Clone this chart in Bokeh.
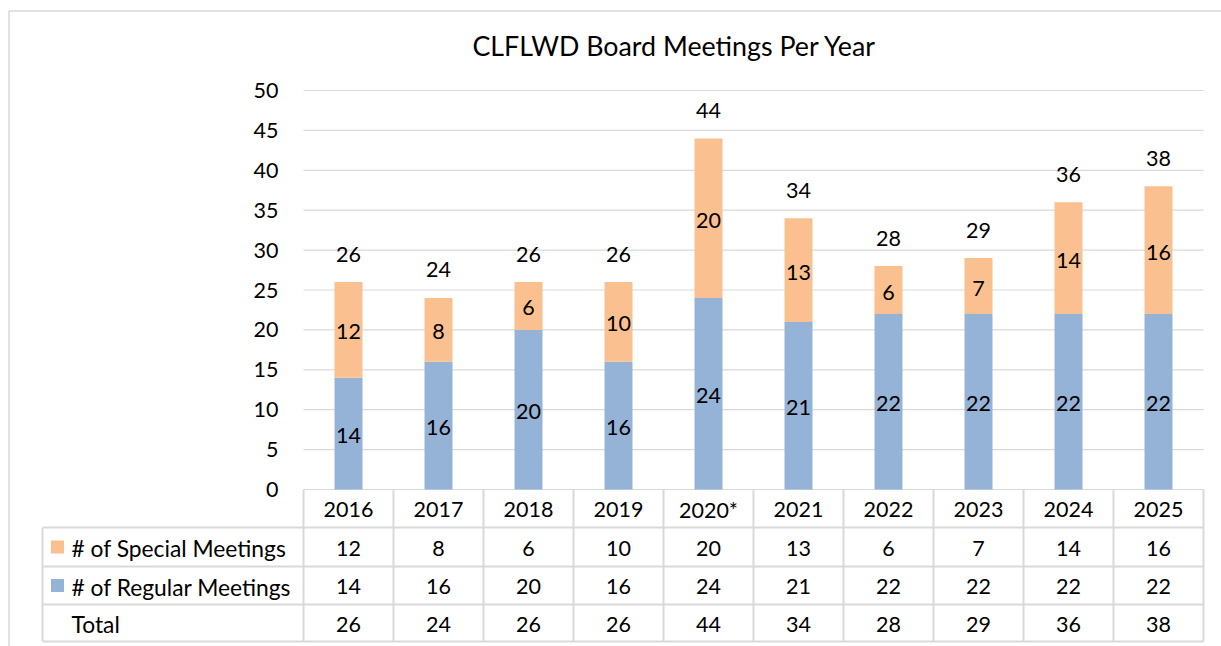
from bokeh.plotting import figure
from bokeh.models import ColumnDataSource, Range1d
from bokeh.core.properties import value
from bokeh.embed import file_html
from bokeh.resources import INLINE

# ---- data ----
years = ["2016", "2017", "2018", "2019", "2020*", "2021", "2022", "2023", "2024", "2025"]
special = [12, 8, 6, 10, 20, 13, 6, 7, 14, 16]
regular = [14, 16, 20, 16, 24, 21, 22, 22, 22, 22]
total = [26, 24, 26, 26, 44, 34, 28, 29, 36, 38]
y_ticks = [0, 5, 10, 15, 20, 25, 30, 35, 40, 45, 50]
series_names = ["# of Special Meetings", "# of Regular Meetings", "Total"]
title_text = "CLFLWD Board Meetings Per Year"

# ---- styling / layout ----
FONT = value("Lato")
FS = "21.5px"
W, H = 1221, 646
COLW = 90.0            # px per category
PX_LEFT = 303.0        # canvas px of category axis start
PY_ZERO = 489.0        # canvas px of y = 0
PPU = 399.0 / 50.0     # px per y unit
ORANGE = "#FAC090"
BLUE = "#95B3D7"
GRID = "#D9D9D9"
TXT = "#000000"

x_start = -PX_LEFT / COLW
x_end = (W - PX_LEFT) / COLW
y_end = PY_ZERO / PPU
y_start = -(H - PY_ZERO) / PPU

def cx(px):  # canvas px -> data x
    return x_start + px / COLW

def cy(py):  # canvas px -> data y
    return y_end - py / PPU

p = figure(width=W, height=H, output_backend="svg", toolbar_location=None,
           x_range=Range1d(x_start, x_end), y_range=Range1d(y_start, y_end),
           x_axis_location=None, y_axis_location=None, min_border=0,
           outline_line_color=None, background_fill_color="white",
           border_fill_color="white")
p.xgrid.visible = False
p.ygrid.visible = False

n = len(years)
centers = [i + 0.5 for i in range(n)]

# outer chart border (left and top edges visible)
p.segment(x0=[cx(8.5)], y0=[cy(10.5)], x1=[cx(8.5)], y1=[y_start], line_color=GRID, line_width=1.5)
p.segment(x0=[cx(8.5)], y0=[cy(10.5)], x1=[x_end], y1=[cy(10.5)], line_color=GRID, line_width=1.5)

# gridlines
p.segment(x0=[0] * len(y_ticks), y0=y_ticks, x1=[n] * len(y_ticks), y1=y_ticks,
          line_color=GRID, line_width=1.2)

# y tick labels
p.text(x=[cx(278)] * len(y_ticks), y=y_ticks, text=[str(t) for t in y_ticks],
       text_align="right", text_baseline="middle", text_font=FONT,
       text_font_size=FS, text_color=TXT)

# bars
src = ColumnDataSource(dict(x=centers, reg=regular, spec=special, tot=total,
                            reg_mid=[r / 2 for r in regular],
                            spec_mid=[r + s / 2 for r, s in zip(regular, special)],
                            reg_lbl=[str(v) for v in regular],
                            spec_lbl=[str(v) for v in special],
                            tot_lbl=[str(v) for v in total]))
bw = 28.0 / COLW
p.vbar(x="x", bottom=0, top="reg", width=bw, fill_color=BLUE, line_color=None, source=src)
p.vbar(x="x", bottom="reg", top="tot", width=bw, fill_color=ORANGE, line_color=None, source=src)

# data labels
for ycol, tcol, off in (("reg_mid", "reg_lbl", 2), ("spec_mid", "spec_lbl", 2), ("tot", "tot_lbl", -28)):
    p.text(x="x", y=ycol, text=tcol, source=src, text_align="center",
           text_baseline="middle", text_font=FONT, text_font_size=FS, text_color=TXT,
           y_offset=off)

# title
p.text(x=[cx(674)], y=[cy(45)], text=[title_text], text_align="center",
       text_baseline="middle", text_font=FONT, text_font_size="26.8px", text_color=TXT)

# ---- data table ----
row_px = [489, 527, 566, 604, 641]
row_edges = [cy(v) for v in row_px]
x_lab_left = cx(42)
# horizontal lines
p.segment(x0=[x_lab_left] * 4, y0=row_edges[1:], x1=[n] * 4, y1=row_edges[1:],
          line_color=GRID, line_width=2)
# vertical lines for value columns
p.segment(x0=list(range(n + 1)), y0=[row_edges[0]] * (n + 1), x1=list(range(n + 1)),
          y1=[row_edges[-1]] * (n + 1), line_color=GRID, line_width=2)
# left border of label column
p.segment(x0=[x_lab_left], y0=[row_edges[1]], x1=[x_lab_left], y1=[row_edges[-1]],
          line_color=GRID, line_width=2)

row_mid = [(row_edges[i] + row_edges[i + 1]) / 2 for i in range(4)]
# header row years
p.text(x=centers, y=[row_mid[0]] * n, text=years, text_align="center", text_baseline="middle",
       text_font=FONT, text_font_size=FS, text_color=TXT, y_offset=1)
rows = [special, regular, total]
for k, vals in enumerate(rows):
    p.text(x=centers, y=[row_mid[k + 1]] * n, text=[str(v) for v in vals],
           text_align="center", text_baseline="middle", text_font=FONT,
           text_font_size=FS, text_color=TXT, y_offset=1)
    p.text(x=[cx(71)], y=[row_mid[k + 1]], text=[series_names[k]], text_align="left",
           text_baseline="middle", text_font=FONT, text_font_size="22.8px", text_color=TXT, y_offset=1)

# legend keys
p.scatter(x=[cx(57)] * 2, y=row_mid[1:3], marker="square", size=13,
          fill_color=[ORANGE, BLUE], line_color=None)

open("out.html", "w").write(file_html(p, INLINE))
